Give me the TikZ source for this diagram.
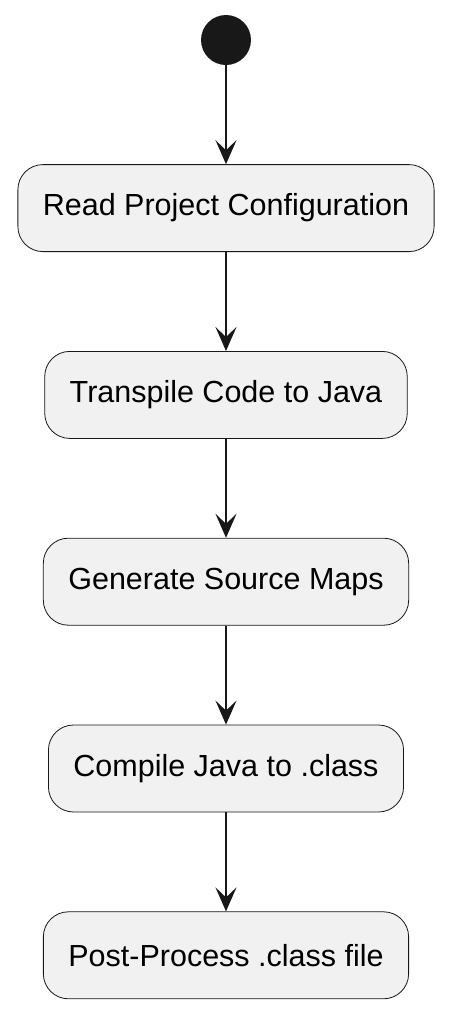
\documentclass[tikz,border=0pt]{standalone}
\usepackage{fontspec}
\setmainfont{Liberation Sans}
\usetikzlibrary{positioning, arrows.meta}
\definecolor{boxfill}{RGB}{241,241,241}
\definecolor{linedark}{RGB}{24,24,24}
\tikzset{
  actbox/.style={draw=linedark, line width=0.8pt, rounded corners=25pt, fill=boxfill, minimum height=87pt, inner xsep=25pt, font=\fontsize{30.5}{36}\selectfont, text=black},
  flow/.style={-{Stealth[length=24pt, width=21pt, inset=10pt]}, line width=2.2pt, color=linedark}
}

\begin{document}
\begin{tikzpicture}
    \useasboundingbox (-226pt,40pt) rectangle (224pt,-973pt);
    \node[circle, fill=linedark, minimum size=50pt, inner sep=0pt] (start) at (0,0) {};
    \node[actbox, below = 99pt of start] (read) {Read Project Configuration};
    \node[actbox, below = 99pt of read] (transpile) {Transpile Code to Java};
    \node[actbox, below = 99pt of transpile] (maps) {Generate Source Maps};
    \node[actbox, below = 99pt of maps] (compile) {Compile Java to .class};
    \node[actbox, below = 99pt of compile] (post) {Post-Process .class file};
    \draw[flow] (start) -- (read);
    \draw[flow] (read) -- (transpile);
    \draw[flow] (transpile) -- (maps);
    \draw[flow] (maps) -- (compile);
    \draw[flow] (compile) -- (post);
\end{tikzpicture}
\end{document}
